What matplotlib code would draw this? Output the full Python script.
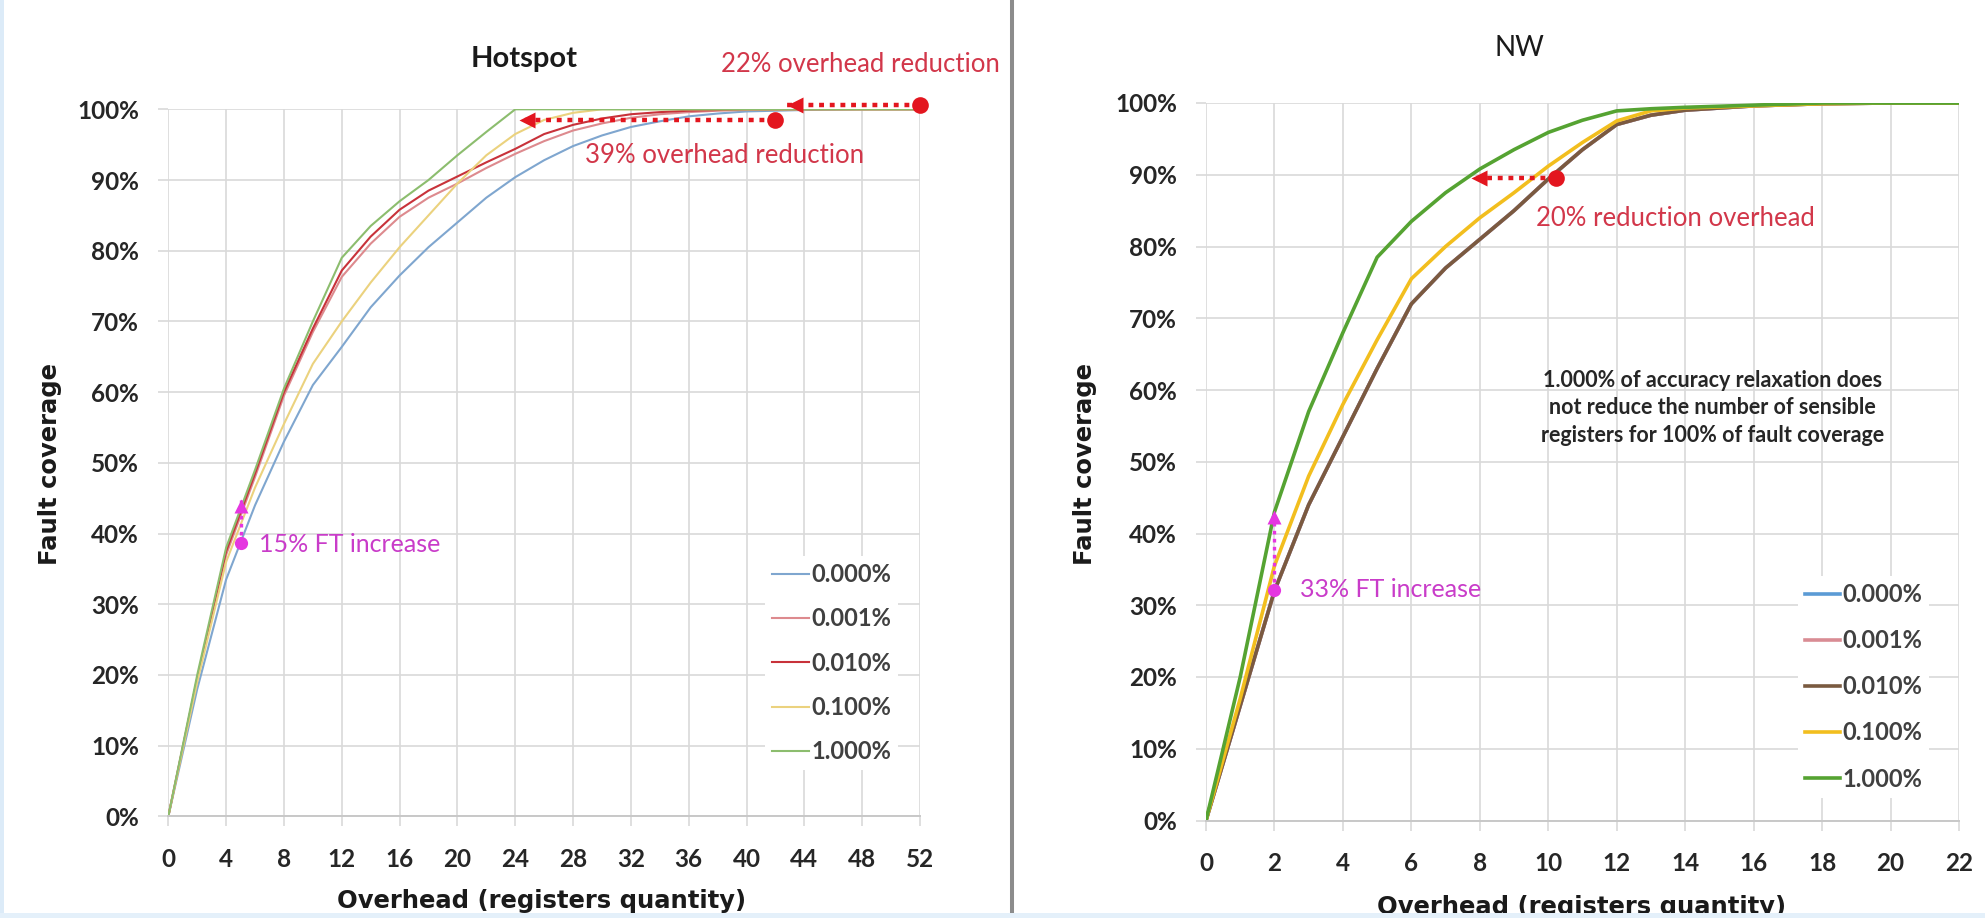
import matplotlib
matplotlib.use('Agg')
import matplotlib.pyplot as plt
from matplotlib.lines import Line2D
from matplotlib.patches import Rectangle
import matplotlib.transforms as mtransforms

plt.rcParams['font.family'] = ['Lato', 'DejaVu Sans']

W, H, DPI = 1985, 918, 100

# ---------------- data ----------------
series_labels = ['0.000%', '0.001%', '0.010%', '0.100%', '1.000%']

hs_x = [0, 2, 4, 6, 8, 10, 12, 14, 16, 18, 20, 22, 24, 26, 28, 30, 32, 34, 36, 38, 40, 44, 48, 52]
hs_000 = [0, 18, 33.5, 44, 53, 61, 66.4, 72, 76.5, 80.5, 84, 87.5, 90.4, 92.8, 94.8, 96.3, 97.5, 98.3, 99, 99.4, 99.7, 99.9, 100, 100]
hs_001 = [0, 19.5, 37, 48, 59.5, 68.5, 76.3, 81, 84.8, 87.5, 89.5, 91.7, 93.7, 95.5, 97, 98, 98.8, 99.3, 99.6, 99.8, 99.9, 100, 100, 100]
hs_010 = [0, 19.5, 37.5, 48.5, 60, 69, 77.2, 82, 85.8, 88.5, 90.5, 92.5, 94.4, 96.5, 97.8, 98.7, 99.3, 99.6, 99.8, 99.9, 100, 100, 100, 100]
hs_100 = [0, 19, 36, 46.5, 55.5, 64, 70, 75.5, 80.5, 85, 89.5, 93.5, 96.5, 98.5, 99.5, 100, 100, 100, 100, 100, 100, 100, 100, 100]
hs_1000 = [0, 20, 38, 49, 60.5, 70, 79, 83.5, 87, 90, 93.5, 96.8, 100, 100, 100, 100, 100, 100, 100, 100, 100, 100, 100, 100]

nw_x = [0, 1, 2, 3, 4, 5, 6, 7, 8, 9, 10, 11, 12, 13, 14, 16, 18, 20, 22]
nw_000 = [0, 16, 32, 44, 53.5, 63, 72, 77, 81, 85, 89.4, 93.5, 97, 98.3, 99, 99.6, 99.9, 100, 100]
nw_001 = [0, 16, 32, 44, 53.5, 63, 72, 77, 81, 85, 89.4, 93.5, 97, 98.3, 99, 99.6, 99.9, 100, 100]
nw_010 = [0, 16, 32, 44, 53.5, 63, 72, 77, 81, 85, 89.4, 93.5, 97, 98.3, 99, 99.6, 99.9, 100, 100]
nw_100 = [0, 17, 35.5, 48, 58, 67, 75.5, 80, 84, 87.5, 91.2, 94.5, 97.5, 98.9, 99.3, 99.6, 99.9, 100, 100]
nw_1000 = [0, 20, 43, 57, 68, 78.5, 83.5, 87.5, 90.8, 93.5, 95.9, 97.6, 98.9, 99.2, 99.4, 99.7, 100, 100, 100]

hs_xticks = list(range(0, 53, 4))
nw_xticks = list(range(0, 23, 2))
y_ticks = list(range(0, 101, 10))
y_ticklabels = [f'{v}%' for v in y_ticks]

# annotations: (start x, arrow tip x, y)
hs_red_arrows = [(52, 42.8, 100.6), (42, 24.3, 98.5)]
hs_red_texts = [('22% overhead reduction', 47.9, 105.3), ('39% overhead reduction', 38.5, 92.4)]
hs_mag_arrow = (5, 38.6, 44.8)        # x, start y, tip y
hs_mag_text = ('15% FT increase', 6.3, 37.4)
nw_red_arrow = (10.24, 7.76, 89.5)
nw_red_text = ('20% reduction overhead', 13.72, 82.9)
nw_mag_arrow = (2, 32.1, 43.2)
nw_mag_text = ('33% FT increase', 2.75, 31.2)
nw_note = ('1.000% of accuracy relaxation does\nnot reduce the number of sensible\n'
           'registers for 100% of fault coverage', 14.8, 57.5)

hs_colors = ['#7FA6CF', '#DD8A8E', '#C8323A', '#EBD27E', '#8CBD6E']
nw_colors = ['#5B9BD5', '#D98C94', '#7A5A40', '#F2BE1E', '#55A332']
RED = '#E3161F'
RED_TXT = '#D2374A'
MAG = '#E536E0'
MAG_TXT = '#C93CC9'

# ---------------- figure ----------------
fig = plt.figure(figsize=(W / DPI, H / DPI), dpi=DPI)
fig.patch.set_facecolor('white')


def fx(px):
    return px / W


def fy(py):
    return 1 - py / H


ax1 = fig.add_axes([fx(168.3), fy(816.4), (920.0 - 168.3) / W, (816.4 - 109.3) / H])
ax2 = fig.add_axes([fx(1206), fy(820.5), (1959.0 - 1206) / W, (820.5 - 103.0) / H])


def style(ax, xticks):
    ax.set_xlim(xticks[0], xticks[-1])
    ax.set_ylim(0, 100)
    ax.set_xticks(xticks)
    ax.set_xticklabels([str(v) for v in xticks], fontweight='bold')
    ax.set_yticks(y_ticks)
    ax.set_yticklabels(y_ticklabels, fontweight='bold')
    ax.grid(True, color='#D9D9D9', lw=1.2)
    ax.set_axisbelow(True)
    for s in ax.spines.values():
        s.set_visible(False)
    ax.spines['bottom'].set_visible(True)
    ax.spines['bottom'].set_color('#C8C8C8')
    ax.spines['bottom'].set_linewidth(1.4)
    ax.tick_params(length=7.5, width=1.2, color='#D9D9D9', labelsize=17.5, labelcolor='#262626')
    ax.tick_params(axis='y', pad=13.5)
    ax.tick_params(axis='x', pad=15.5)


style(ax1, hs_xticks)
style(ax2, nw_xticks)

hs_series = [hs_000, hs_001, hs_010, hs_100, hs_1000]
nw_series = [nw_000, nw_001, nw_010, nw_100, nw_1000]

h1 = []
for ys, c, lab in zip(hs_series, hs_colors, series_labels):
    ln, = ax1.plot(hs_x, ys, color=c, lw=1.5, label=lab, solid_joinstyle='round')
    h1.append(ln)
h2 = []
for ys, c, lab in zip(nw_series, nw_colors, series_labels):
    ln, = ax2.plot(nw_x, ys, color=c, lw=2.6, label=lab, solid_joinstyle='round')
    h2.append(ln)


def h_arrow(ax, x0, x1, y, color, lw=3.2, ms_c=12, ms_t=11):
    ax.plot([x0, x1], [y, y], color=color, lw=lw, ls=(0, (1.1, 1.3)),
            dash_capstyle='butt', clip_on=False, zorder=6)
    ax.plot([x0], [y], 'o', ms=ms_c, color=color, mec='none', clip_on=False, zorder=7)
    tr = mtransforms.offset_copy(ax.transData, fig=fig, x=ms_t / 2, y=0, units='points')
    ax.plot([x1], [y], marker='<', ms=ms_t, color=color, mec='none', transform=tr,
            clip_on=False, zorder=7)


def v_arrow(ax, x, y0, y1, color, lw=2.4, ms_c=9.5, ms_t=9.5):
    ax.plot([x, x], [y0, y1], color=color, lw=lw, ls=(0, (1.1, 1.3)),
            dash_capstyle='butt', clip_on=False, zorder=6)
    ax.plot([x], [y0], 'o', ms=ms_c, color=color, mec='none', clip_on=False, zorder=7)
    tr = mtransforms.offset_copy(ax.transData, fig=fig, x=0, y=-ms_t / 2, units='points')
    ax.plot([x], [y1], marker='^', ms=ms_t, color=color, mec='none', transform=tr,
            clip_on=False, zorder=7)


for (x0, x1, y) in hs_red_arrows:
    h_arrow(ax1, x0, x1, y, RED)
for (t, x, y) in hs_red_texts:
    ax1.text(x, y, t, ha='center', va='baseline', fontsize=18.5, color=RED_TXT, clip_on=False, zorder=8)
v_arrow(ax1, hs_mag_arrow[0], hs_mag_arrow[1], hs_mag_arrow[2], MAG)
ax1.text(hs_mag_text[1], hs_mag_text[2], hs_mag_text[0], ha='left', va='baseline',
         fontsize=18, color=MAG_TXT, zorder=8)

h_arrow(ax2, nw_red_arrow[0], nw_red_arrow[1], nw_red_arrow[2], RED)
ax2.text(nw_red_text[1], nw_red_text[2], nw_red_text[0], ha='center', va='baseline',
         fontsize=18.5, color=RED_TXT, zorder=8)
v_arrow(ax2, nw_mag_arrow[0], nw_mag_arrow[1], nw_mag_arrow[2], MAG)
ax2.text(nw_mag_text[1], nw_mag_text[2], nw_mag_text[0], ha='left', va='baseline',
         fontsize=18, color=MAG_TXT, zorder=8)
ax2.text(nw_note[1], nw_note[2], nw_note[0], ha='center', va='center', fontsize=15.5,
         fontweight='bold', color='#262626', linespacing=1.4, zorder=8)

# titles
ax1.text(24.6, 106.0, 'Hotspot', ha='center', va='baseline', fontsize=21, fontweight='bold',
         color='#1a1a1a', clip_on=False)
ax2.text(9.15, 106.6, 'NW', ha='center', va='baseline', fontsize=20, color='#1a1a1a', clip_on=False)

# axis labels
lab_font = dict(family=['DejaVu Sans'], fontweight='bold', fontsize=17.5, color='#1a1a1a')
fig.text(fx(50), fy(464), 'Fault coverage', rotation=90, ha='center', va='center', **lab_font)
fig.text(fx(1085), fy(464), 'Fault coverage', rotation=90, ha='center', va='center', **lab_font)
fig.text(fx(542), fy(901), 'Overhead (registers quantity)', ha='center', va='center', **lab_font)
fig.text(fx(1582), fy(907), 'Overhead (registers quantity)', ha='center', va='center', **lab_font)

# legends
leg_prop = {'family': ['Lato', 'DejaVu Sans'], 'weight': 'bold', 'size': 17}
leg1 = ax1.legend(h1, series_labels, loc='upper left', bbox_to_anchor=(fx(765), fy(556)),
                  bbox_transform=fig.transFigure, frameon=True, facecolor='white', edgecolor='none',
                  framealpha=1, fancybox=False, borderpad=0.3, borderaxespad=0, handlelength=1.57,
                  handletextpad=0.1, labelspacing=0.90, prop=leg_prop)
leg2 = ax2.legend(h2, series_labels, loc='upper left', bbox_to_anchor=(fx(1798), fy(576)),
                  bbox_transform=fig.transFigure, frameon=True, facecolor='white', edgecolor='none',
                  framealpha=1, fancybox=False, borderpad=0.3, borderaxespad=0, handlelength=1.48,
                  handletextpad=0.1, labelspacing=0.98, prop=leg_prop)
for leg in (leg1, leg2):
    for t in leg.get_texts():
        t.set_color('#404040')
    leg.set_zorder(5)

# divider and frame
fig.add_artist(Line2D([fx(1011.7), fx(1011.7)], [fy(913), 1], color='#8C8C8C', lw=2.9, zorder=9))
fig.add_artist(Rectangle((0, 0), fx(4), 1, transform=fig.transFigure, facecolor='#DCEBF8',
                         edgecolor='none', zorder=10))
fig.add_artist(Rectangle((0, 0), 1, fy(913), transform=fig.transFigure, facecolor='#E4F0FA',
                         edgecolor='none', zorder=10))

fig.savefig('out.png', dpi=DPI, facecolor='white')
